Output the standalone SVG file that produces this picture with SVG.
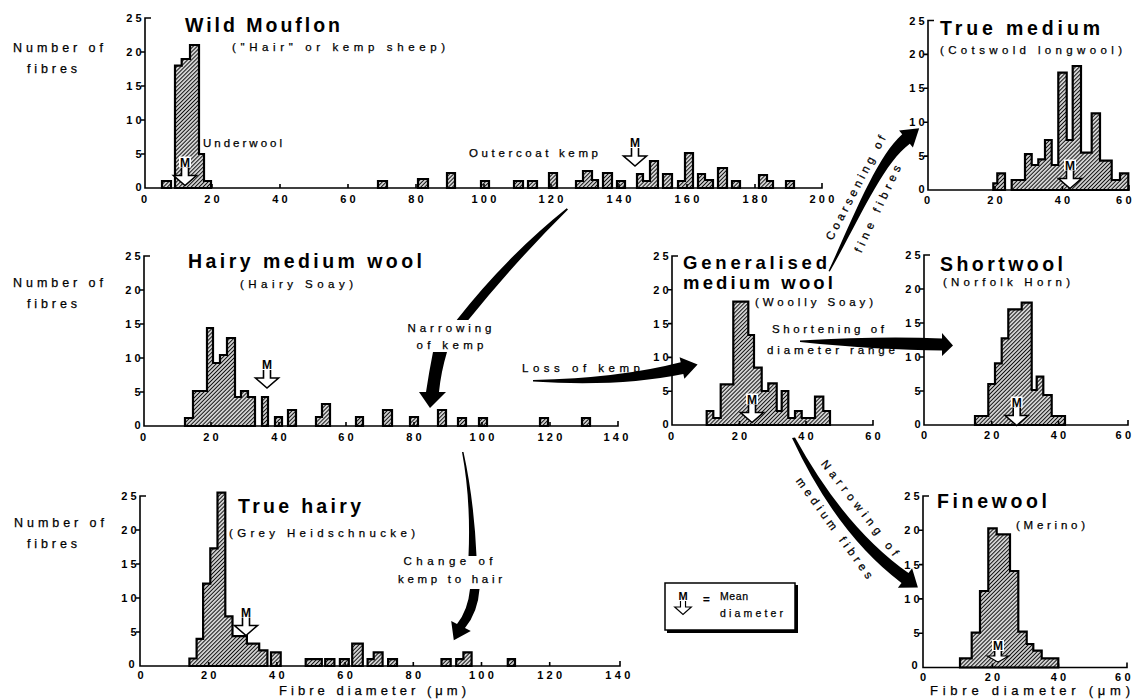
<svg xmlns="http://www.w3.org/2000/svg" width="1134" height="700" viewBox="0 0 1134 700">
<defs>
<pattern id="hatch" patternUnits="userSpaceOnUse" width="2.8" height="2.8" patternTransform="rotate(45)">
<rect width="2.8" height="2.8" fill="#fff"/>
<line x1="1.4" y1="-1" x2="1.4" y2="4" stroke="#111" stroke-width="1.3"/>
</pattern>
<path id="marr" d="M-3.5,0V8H-11.5L0,18L11.5,8H3.5V0" fill="#fff" stroke="#000" stroke-width="1.6" stroke-linejoin="miter"/>
<style>
text{font-family:"Liberation Sans",Arial,Helvetica,sans-serif;fill:#000}
.bar{fill:url(#hatch);stroke:#000;stroke-width:2.2;stroke-linejoin:miter}
.ax{fill:none;stroke:#000;stroke-width:1.6}
.ti{font-weight:bold;font-size:19.5px}
.lb{font-size:11.5px;stroke:#000;stroke-width:0.25}
.ny{font-size:12.5px;stroke:#000;stroke-width:0.25}
.nm{font-weight:bold;font-size:11px;letter-spacing:3.3px}
.xl{text-anchor:middle}
.yl{text-anchor:end}
.mt{font-weight:bold;font-size:12px;text-anchor:middle}
.mid{text-anchor:middle}
.arw{fill:#000;stroke:none}
</style>
</defs>
<rect width="1134" height="700" fill="#fff"/>

<!-- Chart 1: Wild Mouflon -->
<g id="wild-mouflon">
<text class="ny" x="13" y="52" textLength="90">Number of</text>
<text class="ny" x="27" y="72.5" textLength="50">fibres</text>
<text class="ti" x="185" y="32" textLength="155">Wild Mouflon</text>
<text class="lb" x="232" y="50.5" textLength="213">(&quot;Hair&quot; or kemp sheep)</text>
<text class="lb" x="203" y="146.5" textLength="79">Underwool</text>
<text class="lb" x="469" y="156.5" textLength="129">Outercoat kemp</text>
<path class="bar" d="M162,188V181H171V188Z"/>
<path class="bar" d="M175,188V65.6H181.7V59H190V45H199V154H204V181H211V188Z"/>
<path class="bar" d="M378,188V181H387V188Z"/>
<path class="bar" d="M418,188V179H428V188Z"/>
<path class="bar" d="M447,188V173H455V188Z"/>
<path class="bar" d="M481,188V181H489V188Z"/>
<path class="bar" d="M514,188V181H523V188Z"/>
<path class="bar" d="M528,188V181H537V188Z"/>
<path class="bar" d="M549,188V173H557V188Z"/>
<path class="bar" d="M576,188V181H583V171H592V180H598V188Z"/>
<path class="bar" d="M603,188V173H612V188Z"/>
<path class="bar" d="M617,188V181H625V188Z"/>
<path class="bar" d="M637,188V174H643V181H650V161H658V188Z"/>
<path class="bar" d="M663,188V174H672V188Z"/>
<path class="bar" d="M678,188V181H685V153H693V188Z"/>
<path class="bar" d="M698,188V174H705V180H713V188Z"/>
<path class="bar" d="M718,188V168H727V188Z"/>
<path class="bar" d="M732,188V181H740V188Z"/>
<path class="bar" d="M759,188V175H767V181H773V188Z"/>
<path class="bar" d="M786,188V181H794V188Z"/>
<path class="ax" d="M151,18H145V188H822V183M141,52H145M141,86H145M141,120H145M141,154H145M212,188v-4M280,188v-4M348,188v-4M416,188v-4M484,188v-4M551,188v-4M619,188v-4M687,188v-4M755,188v-4"/>
<text class="nm yl" x="145" y="22">25</text>
<text class="nm yl" x="145" y="56">20</text>
<text class="nm yl" x="145" y="90">15</text>
<text class="nm yl" x="145" y="124">10</text>
<text class="nm yl" x="145" y="158">5</text>
<text class="nm yl" x="145" y="191">0</text>
<text class="nm xl" x="145.6" y="202.5">0</text>
<text class="nm xl" x="213.6" y="202.5">20</text>
<text class="nm xl" x="281.6" y="202.5">40</text>
<text class="nm xl" x="349.6" y="202.5">60</text>
<text class="nm xl" x="417.6" y="202.5">80</text>
<text class="nm xl" x="485.6" y="202.5">100</text>
<text class="nm xl" x="552.6" y="202.5">120</text>
<text class="nm xl" x="620.6" y="202.5">140</text>
<text class="nm xl" x="688.6" y="202.5">160</text>
<text class="nm xl" x="756.6" y="202.5">180</text>
<text class="nm xl" x="823.6" y="202.5">200</text>
<g transform="translate(185,166.5)"><rect x="-6" y="-10" width="12" height="11" fill="#fff"/><text class="mt">M</text><use href="#marr" y="1"/></g>
<g transform="translate(635,147)"><text class="mt">M</text><use href="#marr" y="1"/></g>
</g>

<!-- Chart 2: Hairy medium wool -->
<g id="hairy-medium-wool">
<text class="ny" x="13" y="287" textLength="90">Number of</text>
<text class="ny" x="27" y="308" textLength="50">fibres</text>
<text class="ti" x="188" y="268" textLength="234">Hairy medium wool</text>
<text class="lb" x="240" y="288" textLength="113">(Hairy Soay)</text>
<path class="bar" d="M185,426V418H193V391H207V328H213V363H220V355H227V338H235V397H241V391H248V397H255V426Z"/>
<path class="bar" d="M262,426V397H268V426Z"/>
<path class="bar" d="M275,426V417H282V426Z"/>
<path class="bar" d="M288,426V410H296V426Z"/>
<path class="bar" d="M316,426V417H322V404H330V426Z"/>
<path class="bar" d="M356,426V417H363V426Z"/>
<path class="bar" d="M383,426V410H392V426Z"/>
<path class="bar" d="M410,426V417H418V426Z"/>
<path class="bar" d="M438,426V410H446V426Z"/>
<path class="bar" d="M458,426V418H466V426Z"/>
<path class="bar" d="M479,426V418H487V426Z"/>
<path class="bar" d="M540,426V418H548V426Z"/>
<path class="bar" d="M582,426V418H590V426Z"/>
<path class="ax" d="M150,256H144V426H618V421M140,290H144M140,324H144M140,358H144M140,392H144M211,426v-4M279,426v-4M346,426v-4M414,426v-4M482,426v-4M550,426v-4"/>
<text class="nm yl" x="144" y="260">25</text>
<text class="nm yl" x="144" y="294">20</text>
<text class="nm yl" x="144" y="328">15</text>
<text class="nm yl" x="144" y="362">10</text>
<text class="nm yl" x="144" y="396">5</text>
<text class="nm yl" x="144" y="429">0</text>
<text class="nm xl" x="144.6" y="440.5">0</text>
<text class="nm xl" x="212.6" y="440.5">20</text>
<text class="nm xl" x="280.6" y="440.5">40</text>
<text class="nm xl" x="347.6" y="440.5">60</text>
<text class="nm xl" x="415.6" y="440.5">80</text>
<text class="nm xl" x="483.6" y="440.5">100</text>
<text class="nm xl" x="551.6" y="440.5">120</text>
<text class="nm xl" x="617.6" y="440.5">140</text>
<g transform="translate(267,369)"><text class="mt">M</text><use href="#marr" y="1"/></g>
</g>

<!-- Chart 3: True hairy -->
<g id="true-hairy">
<text class="ny" x="14" y="527" textLength="90">Number of</text>
<text class="ny" x="27" y="548" textLength="50">fibres</text>
<text class="ti" x="238" y="513" textLength="123">True hairy</text>
<text class="lb" x="229" y="537" textLength="186">(Grey Heidschnucke)</text>
<text class="ny" x="279" y="695" textLength="187" style="font-size:13px">Fibre diameter (μm)</text>
<path class="bar" d="M189.4,666V658.5H196.6V638.8H203.1V583.7H210.3V548.4H217.5V492.6H225.3V616.4H232.5V636.1H246.9V643.6H259.2V650.4H267.4V666Z"/>
<path class="bar" d="M271,666V652.4H280.7V666Z"/>
<path class="bar" d="M305.7,666V659.2H321.8V666Z"/>
<path class="bar" d="M325.2,666V659.2H334.4V666Z"/>
<path class="bar" d="M339.9,666V659.2H348.8V666Z"/>
<path class="bar" d="M352.2,666V643.6H362.8V666Z"/>
<path class="bar" d="M367.6,666V659.2H373.7V652.4H382.6V666Z"/>
<path class="bar" d="M388.1,666V659.2H397V666Z"/>
<path class="bar" d="M441.5,666V659.2H450.7V666Z"/>
<path class="bar" d="M456.2,666V659.2H463.4V652.4H471.6V666Z"/>
<path class="bar" d="M507.8,666V659.2H515V666Z"/>
<path class="ax" d="M146,496H140V666H620V661M136,530H140M136,564H140M136,598H140M136,632H140M208.7,666v-4M276.9,666v-4M345.1,666v-4M413.3,666v-4M481.5,666v-4M549.7,666v-4"/>
<text class="nm yl" x="140" y="500">25</text>
<text class="nm yl" x="140" y="534">20</text>
<text class="nm yl" x="140" y="568">15</text>
<text class="nm yl" x="140" y="602">10</text>
<text class="nm yl" x="140" y="636">5</text>
<text class="nm yl" x="138" y="668">0</text>
<text class="nm xl" x="142.1" y="679">0</text>
<text class="nm xl" x="210.3" y="679">20</text>
<text class="nm xl" x="278.5" y="679">40</text>
<text class="nm xl" x="346.7" y="679">60</text>
<text class="nm xl" x="414.9" y="679">80</text>
<text class="nm xl" x="483.1" y="679">100</text>
<text class="nm xl" x="551.3" y="679">120</text>
<text class="nm xl" x="619.5" y="679">140</text>
<g transform="translate(246,616.5)"><text class="mt">M</text><use href="#marr" y="1"/></g>
</g>

<!-- Chart 4: Generalised medium wool -->
<g id="generalised-medium-wool">
<text class="ti" x="683" y="269" textLength="144" style="font-size:18.5px">Generalised</text>
<text class="ti" x="683" y="289" textLength="150" style="font-size:18.5px">medium wool</text>
<text class="lb" x="755" y="305.5" textLength="118">(Woolly Soay)</text>
<path class="bar" d="M706.7,425V411H713.3V418H720.7V384.3H733.3V301.7H748.3V335H754V367.7H761.7V391H768.3V383.3H776.7V411H781.7V391H788.3V418H795V411H801.7V418H815V396.7H823.3V411H830V425Z"/>
<path class="ax" d="M678,256H672V425H873V420M668,289.8H672M668,323.6H672M668,357.4H672M668,391.2H672M739.5,425v-4M806,425v-4"/>
<text class="nm yl" x="672" y="260">25</text>
<text class="nm yl" x="672" y="293.8">20</text>
<text class="nm yl" x="672" y="327.6">15</text>
<text class="nm yl" x="672" y="361.4">10</text>
<text class="nm yl" x="672" y="395.2">5</text>
<text class="nm yl" x="672" y="428">0</text>
<text class="nm xl" x="672.6" y="439.5">0</text>
<text class="nm xl" x="741.1" y="439.5">20</text>
<text class="nm xl" x="807.6" y="439.5">40</text>
<text class="nm xl" x="874.6" y="439.5">60</text>
<g transform="translate(752,403.5)"><rect x="-6" y="-10" width="12" height="11" fill="#fff"/><text class="mt">M</text><use href="#marr" y="1"/></g>
</g>

<!-- Chart 5: True medium -->
<g id="true-medium">
<text class="ti" x="940" y="35" textLength="160">True medium</text>
<text class="lb" x="940" y="54" textLength="182">(Cotswold longwool)</text>
<path class="bar" d="M993.3,190V183.3H997.3V173.3H1005V190Z"/>
<path class="bar" d="M1011.7,190V180H1025V154H1031.7V165H1038.3V159.3H1045V140H1051.7V165H1058.3V72.7H1066.7V140H1072.7V66H1081V152.7H1091.7V113.3H1100V160.7H1111.7V180H1120V173.3H1128.3V190Z"/>
<path class="ax" d="M934,20.5H928V190H1129V185M924,54.4H928M924,88.3H928M924,122.2H928M924,156.1H928M995,190v-4M1062.5,190v-4"/>
<text class="nm yl" x="928" y="24.5">25</text>
<text class="nm yl" x="928" y="58.4">20</text>
<text class="nm yl" x="928" y="92.3">15</text>
<text class="nm yl" x="928" y="126.2">10</text>
<text class="nm yl" x="928" y="160.1">5</text>
<text class="nm yl" x="928" y="193">0</text>
<text class="nm xl" x="928.6" y="203.5">0</text>
<text class="nm xl" x="996.6" y="203.5">20</text>
<text class="nm xl" x="1064.1" y="203.5">40</text>
<text class="nm xl" x="1125.5" y="203.5">60</text>
<g transform="translate(1070,169.5)"><rect x="-6" y="-10" width="12" height="11" fill="#fff"/><text class="mt">M</text><use href="#marr" y="1"/></g>
</g>

<!-- Chart 6: Shortwool -->
<g id="shortwool">
<text class="ti" x="940" y="270.5" textLength="123">Shortwool</text>
<text class="lb" x="943" y="286" textLength="127">(Norfolk Horn)</text>
<path class="bar" d="M975,425V416H988.3V384H995V363.3H1001.7V338.3H1008.3V309.3H1021.7V302.7H1031.7V390H1036.7V376.7H1043.3V395H1051.7V416H1065V425Z"/>
<path class="ax" d="M930,255H924V425H1128V420M920,289H924M920,323H924M920,357H924M920,391H924M991.7,425v-4M1058.5,425v-4"/>
<text class="nm yl" x="924" y="259">25</text>
<text class="nm yl" x="924" y="293">20</text>
<text class="nm yl" x="924" y="327">15</text>
<text class="nm yl" x="924" y="361">10</text>
<text class="nm yl" x="924" y="395">5</text>
<text class="nm yl" x="924" y="428">0</text>
<text class="nm xl" x="925.6" y="439">0</text>
<text class="nm xl" x="993.3" y="439">20</text>
<text class="nm xl" x="1060.1" y="439">40</text>
<text class="nm xl" x="1125" y="439">60</text>
<g transform="translate(1016.7,406.5)"><rect x="-6" y="-10" width="12" height="11" fill="#fff"/><text class="mt">M</text><use href="#marr" y="1"/></g>
</g>

<!-- Chart 7: Finewool -->
<g id="finewool">
<text class="ti" x="937" y="508" textLength="110">Finewool</text>
<text class="lb" x="1016" y="529" textLength="69">(Merino)</text>
<text class="ny" x="930" y="695" textLength="200" style="font-size:13px">Fibre diameter (μm)</text>
<path class="bar" d="M960,667.5V658.3H971.7V632.7H980V591H988.3V528.3H996.7V534.3H1010V571H1018.3V631.7H1026.7V644H1033.3V650.7H1041.7V658.3H1058.3V667.5Z"/>
<path class="ax" d="M929,496H923V667.5H1127V662.5M919,530.3H923M919,564.6H923M919,598.9H923M919,633.2H923M992.5,667.5v-4M1058.5,667.5v-4"/>
<text class="nm yl" x="923" y="500">25</text>
<text class="nm yl" x="923" y="534.3">20</text>
<text class="nm yl" x="923" y="568.6">15</text>
<text class="nm yl" x="923" y="602.9">10</text>
<text class="nm yl" x="923" y="637.2">5</text>
<text class="nm yl" x="921" y="669">0</text>
<text class="nm xl" x="924.6" y="680.5">0</text>
<text class="nm xl" x="994.1" y="680.5">20</text>
<text class="nm xl" x="1060.1" y="680.5">40</text>
<text class="nm xl" x="1124.5" y="680.5">60</text>
<g transform="translate(998,650)"><rect x="-6" y="-10" width="12" height="11" fill="#fff"/><text class="mt">M</text><use href="#marr" transform="translate(0,1) scale(0.95,0.62)"/></g>
</g>

<!-- Legend -->
<g id="legend">
<rect x="665" y="583" width="130" height="47" fill="#fff" stroke="#000" stroke-width="1.5"/>
<path d="M667,631.5H796.5V585" fill="none" stroke="#000" stroke-width="3"/>
<g transform="translate(683,600)"><text class="mt" style="font-size:11px">M</text><use href="#marr" transform="translate(0,1) scale(0.72,0.75)"/></g>
<text class="lb" x="703" y="603" style="font-weight:bold">=</text>
<text class="lb" x="720" y="600" textLength="28" style="font-size:10.5px">Mean</text>
<text class="lb" x="720" y="617" textLength="63" style="font-size:10.5px">diameter</text>
</g>

<!-- Connectors -->
<g id="connectors">
<path class="arw" d="M566.7,208.3Q505,258 456.7,320L468.3,320Q515,262 568,209.5Z"/>
<path class="arw" d="M433,352L447,352Q441,372 439,392L446,392L430,408L419,392L426,392Q429,372 433,352Z"/>
<path class="arw" d="M533,380Q620,378 680.7,362.2L679.6,357.3L697.6,364.5L684.4,378.7L683.3,373.9Q620,387 533,381.5Z"/>
<path class="arw" d="M800,340.5Q880,336 942,338.5L942,333L953,345.5L942,356L942,350.5Q880,350 800,342Z"/>
<path class="arw" d="M828.5,271C855,213.5 877,156.5 902.2,134.3L899.1,130.4L919.2,128.3L912.9,147.6L909.8,143.7C883,163.5 861,216.5 829.8,271.5Z"/>
<path class="arw" d="M792,438Q837,534.5 901.5,582.9L897.9,587.7L917.9,587.4L912.1,568.3L908.5,573.1Q845,528.5 795,437.5Z"/>
<path class="arw" d="M462,452Q471,500 468.5,556L476.5,556Q474,500 463.5,452Z"/>
<path class="arw" d="M470,589L479.5,589Q478,612 465,628L470.8,630.9L453.8,640.3L451.2,621.1L457,624Q468,610 470,589Z"/>
<text class="lb mid" x="449.5" y="331.5" textLength="84">Narrowing</text>
<text class="lb mid" x="450" y="349" textLength="67">of kemp</text>
<text class="lb" x="522" y="371.5" textLength="118">Loss of kemp</text>
<text class="lb" x="772" y="333" textLength="112">Shortening of</text>
<text class="lb" x="767" y="354" textLength="128">diameter range</text>
<text class="lb mid" x="448" y="565" textLength="89">Change of</text>
<text class="lb mid" x="450" y="583" textLength="104">kemp to hair</text>
<text class="lb mid" transform="translate(859.1,189.6) rotate(-62.5)" textLength="116">Coarsening of</text>
<text class="lb mid" transform="translate(881.2,210.5) rotate(-65)" textLength="95">fine fibres</text>
<text class="lb mid" transform="translate(856.8,510.4) rotate(52)" textLength="118">Narrowing of</text>
<text class="lb mid" transform="translate(831.3,530.4) rotate(54)" textLength="122">medium fibres</text>
</g>
</svg>
